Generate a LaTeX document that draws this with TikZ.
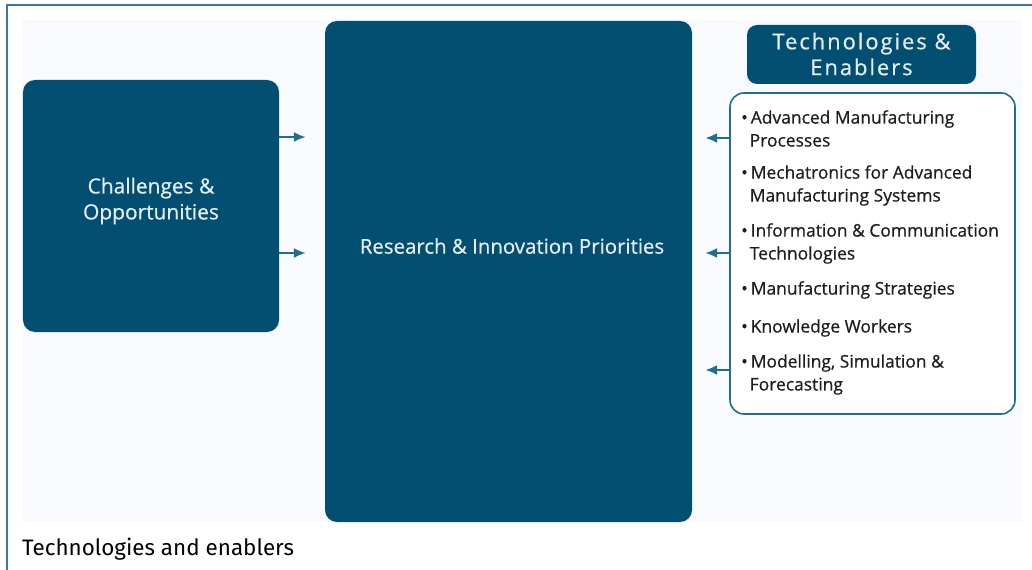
\documentclass[tikz,border=0pt]{standalone}
\usepackage{fontspec}
\setmainfont{Open Sans}[FakeBold=0.6]
\newfontfamily\headfont{Open Sans}[LetterSpace=9,FakeBold=0.6]
\newfontfamily\capfont{Fira Sans}
\usetikzlibrary{arrows.meta,calc,positioning}
\tikzset{>={Latex[length=12bp,width=10bp]}}
\definecolor{boxblue}{RGB}{3,79,113}
\definecolor{frameblue}{RGB}{58,117,173}
\definecolor{listblue}{RGB}{30,111,144}
\definecolor{panelgray}{RGB}{249,250,253}
\definecolor{lighttext}{RGB}{228,236,240}
\definecolor{itemtext}{RGB}{30,30,30}
\tikzset{
  darkbox/.style={fill=boxblue,rounded corners=12bp,inner sep=0pt},
  boxtext/.style={text=lighttext,align=center,inner sep=0pt},
  item/.style={anchor=west,align=left,inner sep=0pt,text=itemtext,font=\fontsize{17.5}{23}\selectfont},
  flow/.style={->,draw=listblue,line width=2bp}
}
\newcommand{\bul}{\textbullet\hspace{3bp}}
\newcommand{\ind}{\hphantom{\textbullet\hspace{2bp}}}

\begin{document}
\begin{tikzpicture}[x=1bp,y=-1bp]
    \useasboundingbox (0,0) rectangle (1032,570);
    %frame and panel
    \draw[frameblue,line width=2.5bp] (7,570) -- (7,5) -- (1032,5);
    \fill[panelgray] (22,20) rectangle (1022,522);
    %boxes
    \node[darkbox,minimum width=256bp,minimum height=252bp] (chal) at (151,206) {};
    \node[darkbox,minimum width=367bp,minimum height=501bp] (prio) at (508.5,271.5) {};
    \node[darkbox,rounded corners=10bp,minimum width=229bp,minimum height=59bp] (head) at (861.5,54.5) {};
    \node[draw=listblue,line width=1.6bp,fill=white,rounded corners=14bp,minimum width=285bp,minimum height=321bp] (list) at (872.5,253.5) {};
    %texts
    \node[boxtext,font=\fontsize{21}{26}\selectfont] (chaltext) at (151,201) {Challenges \&\\Opportunities};
    \node[boxtext,font=\fontsize{20.5}{24}\selectfont] (priotext) at (512,246) {Research \& Innovation Priorities};
    \node[boxtext,font=\headfont\fontsize{22}{26}\selectfont] (headtext) at (861.5,54) {Technologies \&\\Enablers};
    \node[item] (item1) at (741,128.5) {\bul Advanced Manufacturing\\\ind Processes};
    \node[item] (item2) at (741,185.5) {\bul Mechatronics for Advanced\\\ind Manufacturing Systems};
    \node[item] (item3) at (741,243.5) {\bul Information \& Communication\\\ind Technologies};
    \node[item] (item4) at (741,290) {\bul Manufacturing Strategies};
    \node[item] (item5) at (741,328) {\bul Knowledge Workers};
    \node[item] (item6) at (741,374.5) {\bul Modelling, Simulation \&\\\ind Forecasting};
    %arrows
    \draw[flow,shorten >=19bp] (chal.east |- 0,137) -- (prio.west |- 0,137);
    \draw[flow,shorten >=19bp] (chal.east |- 0,253) -- (prio.west |- 0,253);
    \foreach \y in {138,253,370}
      \draw[flow,shorten >=13bp] (list.west |- 0,\y) -- (prio.east |- 0,\y);
    %caption
    \node[anchor=west,inner sep=0pt,font=\capfont\fontsize{22.5}{24}\selectfont] (cap) at (22,549) {Technologies and enablers};
\end{tikzpicture}
\end{document}
